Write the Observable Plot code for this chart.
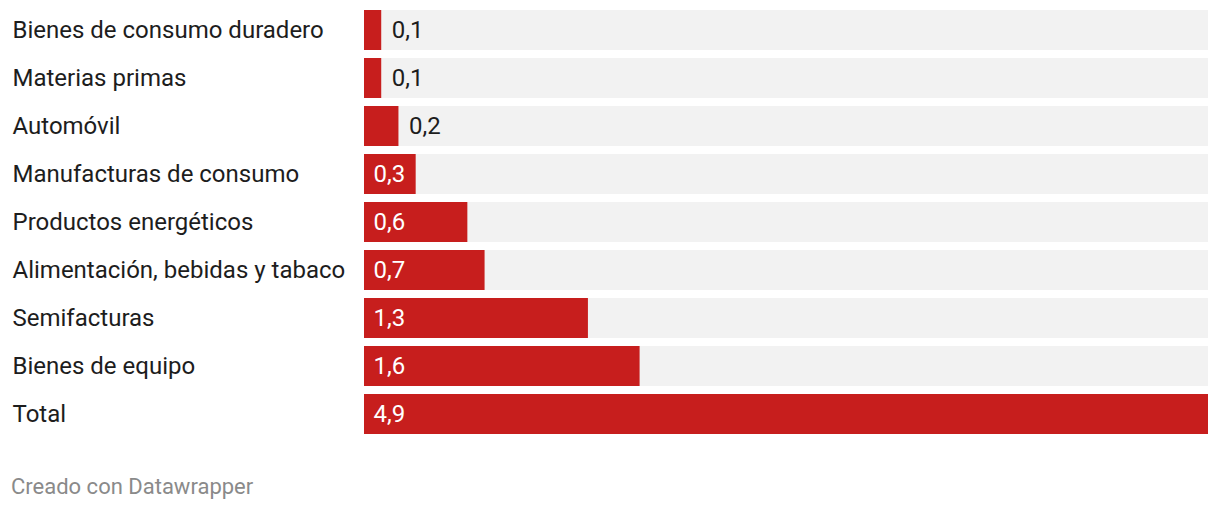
<!DOCTYPE html>
<html>
<head>
<meta charset="utf-8">
<script src="https://cdn.jsdelivr.net/npm/d3@7"></script>
<script src="https://cdn.jsdelivr.net/npm/@observablehq/plot@0.6"></script>
<style>
  html, body { margin: 0; padding: 0; background: #fff; }
  body { font-family: Roboto, sans-serif; width: 1220px; }
  #caption { font-size: 22px; color: #8a8a8a; padding-left: 11px; margin-top: 30px; line-height: 26px; }
</style>
</head>
<body>
<div id="chart"></div>
<div id="caption">Creado con Datawrapper</div>
<script>
const categories = [
  "Bienes de consumo duradero",
  "Materias primas",
  "Automóvil",
  "Manufacturas de consumo",
  "Productos energéticos",
  "Alimentación, bebidas y tabaco",
  "Semifacturas",
  "Bienes de equipo",
  "Total"
];
const values = [0.1, 0.1, 0.2, 0.3, 0.6, 0.7, 1.3, 1.6, 4.9];
const maxValue = 4.9;

const data = categories.map((c, i) => ({category: c, value: values[i]}));
const fmt = v => v.toFixed(1).replace(".", ",");
const inside = data.filter(d => d.value >= 0.3);
const outside = data.filter(d => d.value < 0.3);

const chart = Plot.plot({
  width: 1220,
  height: 444,
  marginLeft: 364,
  marginRight: 12,
  marginTop: 6,
  marginBottom: 6,
  style: {fontFamily: "Roboto, sans-serif", background: "#fff"},
  x: {domain: [0, maxValue], axis: null},
  y: {domain: categories, paddingInner: 1/6, paddingOuter: 1/12, axis: null},
  marks: [
    Plot.barX(data, {y: "category", x1: 0, x2: maxValue, fill: "#f2f2f2"}),
    Plot.barX(data, {y: "category", x: "value", fill: "#c71e1d"}),
    Plot.text(data, {y: "category", text: "category", frameAnchor: "left", textAnchor: "start", dx: -352, fontSize: 24, fill: "#1d1d1d"}),
    Plot.text(inside, {y: "category", x: 0, text: d => fmt(d.value), textAnchor: "start", dx: 9, fontSize: 24, fill: "#ffffff"}),
    Plot.text(outside, {y: "category", x: "value", text: d => fmt(d.value), textAnchor: "start", dx: 10, fontSize: 24, fill: "#1d1d1d"})
  ]
});
document.getElementById("chart").appendChild(chart);
</script>
</body>
</html>
